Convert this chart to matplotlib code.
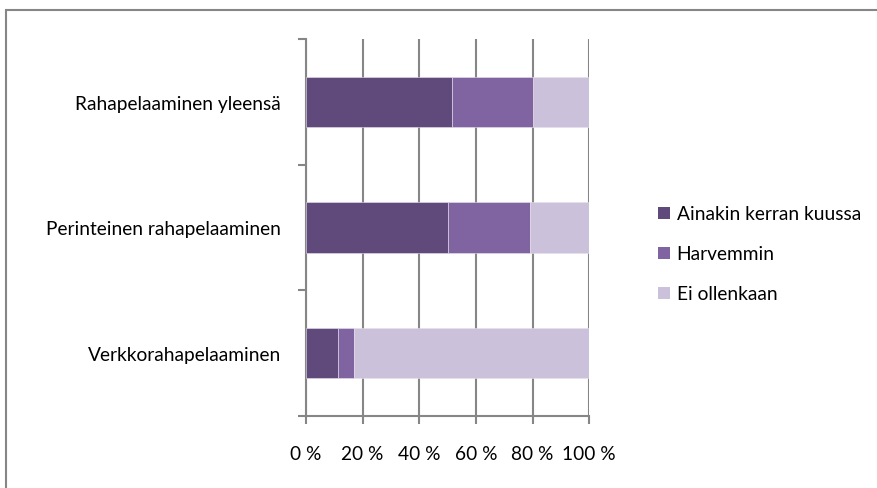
#!/usr/bin/env python3
import matplotlib
matplotlib.use('Agg')
import matplotlib.pyplot as plt
from matplotlib.patches import Rectangle, Patch

categories = ['Rahapelaaminen yleensä', 'Perinteinen rahapelaaminen', 'Verkkorahapelaaminen']
series = ['Ainakin kerran kuussa', 'Harvemmin', 'Ei ollenkaan']
monthly = [51.6, 50.2, 11.4]
rarely = [28.5, 28.9, 5.4]
never = [19.9, 20.9, 83.2]
colors = ['#604A7B', '#8064A2', '#CCC1DA']
xticks = [0, 20, 40, 60, 80, 100]
xticklabels = ['0 %', '20 %', '40 %', '60 %', '80 %', '100 %']

GRID = '#868686'
W, H = 877, 489
FS = 13.8

plt.rcParams['font.family'] = ['Lato', 'DejaVu Sans']
fig = plt.figure(figsize=(W / 100, H / 100), dpi=100)
ax = fig.add_axes([306 / W, 1 - 417 / H, (589.3 - 306) / W, (417 - 40) / H])

ypos = [2, 1, 0]
left = [0, 0, 0]
for vals, col, name in zip([monthly, rarely, never], colors, series):
    ax.barh(ypos, vals, left=left, height=0.4, color=col, edgecolor='#E6E0EC',
            linewidth=0.4, zorder=3, label=name)
    left = [a + b for a, b in zip(left, vals)]

ax.set_xlim(0, 100)
ax.set_ylim(-0.5, 2.5)
ax.set_xticks(xticks)
ax.set_xticklabels(xticklabels, fontsize=FS, color='#000000')
ax.set_yticks(ypos)
ax.set_yticklabels(categories, fontsize=FS)
ax.set_yticks([-0.5, 0.5, 1.5, 2.5], minor=True)
ax.tick_params(axis='y', which='major', length=0, pad=18)
ax.tick_params(axis='y', which='minor', length=6, width=1.5, color=GRID, direction='out')
ax.tick_params(axis='x', length=6, width=1.5, color=GRID, pad=15, direction='out')

ax.grid(axis='x', color=GRID, linewidth=1.5, zorder=1)
for s in ['top', 'right']:
    ax.spines[s].set_visible(False)
for s in ['left', 'bottom']:
    ax.spines[s].set_color(GRID)
    ax.spines[s].set_linewidth(1.5)

handles = [Patch(facecolor=c, edgecolor='none') for c in colors]
fig.legend(handles, series, loc='upper left', bbox_to_anchor=(645 / W, 1 - 193 / H),
           frameon=False, fontsize=FS, handlelength=0.6, handleheight=0.6,
           handletextpad=0.35, labelspacing=1.2, borderpad=0.2)

fig.patches.append(Rectangle((6 / W, -0.1), 1.2, 1.1 - 11 / H, transform=fig.transFigure,
                             facecolor='none', edgecolor=GRID, linewidth=1.5, clip_on=False))

fig.savefig('out.png', dpi=100)
